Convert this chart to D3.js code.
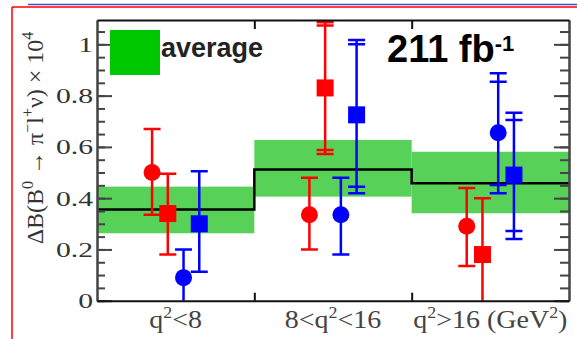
<!DOCTYPE html>
<html>
<head>
<meta charset="utf-8">
<script src="https://cdn.jsdelivr.net/npm/d3@7"></script>
<style>
  html, body { margin: 0; padding: 0; background: #fff; }
  svg { display: block; }
</style>
</head>
<body>
<svg id="chart" width="577" height="339"></svg>
<script>
// q^2 bin labels: [text, isSuperscript]
const binLabels = [
  [["q", false], ["2", true], ["<8", false]],
  [["8<q", false], ["2", true], ["<16", false]],
  [["q", false], ["2", true], [">16 (GeV", false], ["2", true], [")", false]]
];

// Average branching fraction per bin (x 10^4) and its band
const avgValue = [0.356, 0.512, 0.458];
const avgLow   = [0.263, 0.406, 0.341];
const avgHigh  = [0.445, 0.627, 0.581];

// Individual measurements (x 10^4): central value, outer error ends, inner (stat) ends
const redCircleValue = [0.50, 0.335, 0.29];
const redCircleHigh  = [0.67, 0.48, 0.44];
const redCircleLow   = [0.335, 0.20, 0.135];

const redSquareValue     = [0.34, 0.83, 0.18];
const redSquareHigh      = [0.495, 1.086, 0.40];
const redSquareLow       = [0.18, 0.572, -0.05];
const redSquareInnerHigh = [null, 1.074, null];
const redSquareInnerLow  = [null, 0.588, null];

const blueCircleValue     = [0.09, 0.335, 0.655];
const blueCircleHigh      = [0.20, 0.48, 0.887];
const blueCircleLow       = [-0.05, 0.18, 0.419];
const blueCircleInnerHigh = [null, null, 0.854];
const blueCircleInnerLow  = [null, null, 0.451];

const blueSquareValue     = [0.30, 0.725, 0.49];
const blueSquareHigh      = [0.505, 1.017, 0.733];
const blueSquareLow       = [0.113, 0.419, 0.241];
const blueSquareInnerHigh = [null, 1.0, 0.705];
const blueSquareInnerLow  = [null, 0.445, 0.272];

const yMajorTicks = [0, 0.2, 0.4, 0.6, 0.8, 1];
const yMinorTicks = d3.range(0, 22).map(i => i * 0.05);

const W = 577, H = 339;
const margin = { left: 97, right: 8, top: 20, bottom: 38.3 };
const svg = d3.select("#chart");

const x = d3.scaleLinear().domain([0, 3]).range([margin.left, W - margin.right]);
const y = d3.scaleLinear().domain([0, 1.095]).range([H - margin.bottom, margin.top]);

const serif = "'Liberation Serif', 'Times New Roman', serif";
const sans = "'Liberation Sans', Arial, sans-serif";
const RED = "#ff0000", BLUE = "#0000ff";

// page border lines
svg.append("line").attr("x1", 28).attr("x2", W).attr("y1", 4.5).attr("y2", 4.5)
  .attr("stroke", "#4a4ac8").attr("stroke-width", 1.5);
svg.append("line").attr("x1", 12).attr("x2", W).attr("y1", 7).attr("y2", 7)
  .attr("stroke", RED).attr("stroke-width", 1.5);
svg.append("line").attr("x1", 12).attr("x2", 12).attr("y1", 7).attr("y2", H)
  .attr("stroke", RED).attr("stroke-width", 1.5);

const plot = svg.append("g");
const clipId = "plotclip";
svg.append("defs").append("clipPath").attr("id", clipId)
  .append("rect").attr("x", x(0)).attr("y", y(1.095))
  .attr("width", x(3) - x(0)).attr("height", y(0) - y(1.095));

const inner = plot.append("g").attr("clip-path", `url(#${clipId})`);

// average bands
inner.selectAll("rect.band").data(avgValue).join("rect")
  .attr("class", "band")
  .attr("x", (d, i) => x(i)).attr("width", (d, i) => x(i + 1) - x(i))
  .attr("y", (d, i) => y(avgHigh[i])).attr("height", (d, i) => y(avgLow[i]) - y(avgHigh[i]))
  .attr("fill", "#58d158");

// average step line
const stepPts = [];
avgValue.forEach((v, i) => { stepPts.push([i, v]); stepPts.push([i + 1, v]); });
inner.append("path")
  .attr("d", d3.line().x(d => x(d[0])).y(d => y(d[1]))(stepPts))
  .attr("fill", "none").attr("stroke", "#000").attr("stroke-width", 2.5);

// measurements
const series = [
  { color: RED,  shape: "circle", off: 0.35, v: redCircleValue,  hi: redCircleHigh,  lo: redCircleLow,  ihi: [null, null, null], ilo: [null, null, null] },
  { color: RED,  shape: "square", off: 0.45, v: redSquareValue,  hi: redSquareHigh,  lo: redSquareLow,  ihi: redSquareInnerHigh, ilo: redSquareInnerLow },
  { color: BLUE, shape: "circle", off: 0.55, v: blueCircleValue, hi: blueCircleHigh, lo: blueCircleLow, ihi: blueCircleInnerHigh, ilo: blueCircleInnerLow },
  { color: BLUE, shape: "square", off: 0.65, v: blueSquareValue, hi: blueSquareHigh, lo: blueSquareLow, ihi: blueSquareInnerHigh, ilo: blueSquareInnerLow }
];

const capHalf = 8.5;
series.forEach(s => {
  const g = inner.append("g").attr("stroke", s.color).attr("fill", s.color);
  s.v.forEach((val, i) => {
    const cx = x(i + s.off);
    g.append("line").attr("x1", cx).attr("x2", cx)
      .attr("y1", y(s.lo[i])).attr("y2", y(s.hi[i])).attr("stroke-width", 2.5);
    [s.hi[i], s.lo[i], s.ihi[i], s.ilo[i]].forEach(c => {
      if (c === null || c < 0) return;
      g.append("line").attr("x1", cx - capHalf).attr("x2", cx + capHalf)
        .attr("y1", y(c)).attr("y2", y(c)).attr("stroke-width", 2.5);
    });
    if (s.shape === "circle") {
      g.append("circle").attr("cx", cx).attr("cy", y(val)).attr("r", 8.5).attr("stroke", "none");
    } else {
      g.append("rect").attr("x", cx - 8.5).attr("y", y(val) - 8.5)
        .attr("width", 17).attr("height", 17).attr("stroke", "none");
    }
  });
});

// axes
const axisColor = "#444";
const tickStretch = 1.35;
function styleAxis(g, color) {
  g.select(".domain").attr("stroke", color).attr("stroke-width", 2);
  g.selectAll(".tick line").attr("stroke", color).attr("stroke-width", 2);
}

const leftMinor = plot.append("g").attr("transform", `translate(${x(0)},0)`)
  .call(d3.axisLeft(y).tickValues(yMinorTicks).tickSize(-8).tickSizeOuter(0).tickFormat(""));
styleAxis(leftMinor, axisColor);
const leftMajor = plot.append("g").attr("transform", `translate(${x(0)},0)`)
  .call(d3.axisLeft(y).tickValues(yMajorTicks).tickSize(-15).tickSizeOuter(0).tickPadding(4)
    .tickFormat(d => d === 0 ? "0" : d === 1 ? "1" : d3.format(".1f")(d)));
styleAxis(leftMajor, axisColor);
leftMajor.selectAll(".tick text")
  .attr("font-family", serif).attr("font-size", 22).attr("fill", "#333")
  .attr("x", -4 / tickStretch)
  .attr("transform", `scale(${tickStretch},1)`);

const rightMinor = plot.append("g").attr("transform", `translate(${x(3)},0)`)
  .call(d3.axisRight(y).tickValues(yMinorTicks).tickSize(-9).tickSizeOuter(0).tickFormat(""));
styleAxis(rightMinor, axisColor);
const rightMajor = plot.append("g").attr("transform", `translate(${x(3)},0)`)
  .call(d3.axisRight(y).tickValues(yMajorTicks).tickSize(-15).tickSizeOuter(0).tickFormat(""));
styleAxis(rightMajor, axisColor);

const topAxis = plot.append("g").attr("transform", `translate(0,${y(1.095)})`)
  .call(d3.axisTop(x).tickValues([1, 2]).tickSize(-9).tickSizeOuter(0).tickFormat(""));
styleAxis(topAxis, "#111");
const bottomAxis = plot.append("g").attr("transform", `translate(0,${y(0)})`)
  .call(d3.axisBottom(x).tickValues([1, 2]).tickSize(-8).tickSizeOuter(0).tickFormat(""));
styleAxis(bottomAxis, "#111");

// bin labels
const labelStretch = 1.12;
binLabels.forEach((parts, i) => {
  const t = svg.append("text")
    .attr("transform", `translate(${x(i + 0.5)},328) scale(${labelStretch},1)`)
    .attr("text-anchor", "middle")
    .attr("font-family", serif).attr("font-size", 25).attr("fill", "#444");
  parts.forEach(([str, sup]) => {
    const ts = t.append("tspan").text(str);
    if (sup) ts.attr("font-size", 16).attr("dy", -10);
    else if (t.selectAll("tspan").size() > 1) ts.attr("dy", 10);
  });
});

// y-axis title
const yt = svg.append("text")
  .attr("transform", "translate(43,138) rotate(-90)")
  .attr("text-anchor", "middle")
  .attr("font-family", serif).attr("font-size", 24).attr("fill", "#333");
[["\u0394B(B", 0], ["0", -10], [" \u2192 \u03C0", 10], ["\u2212", -10], ["l", 10], ["+", -10], ["\u03BD) \u00D7 10", 10], ["4", -10]]
  .forEach(([str, dy]) => {
    const ts = yt.append("tspan").text(str);
    if (dy) ts.attr("dy", dy);
    if (dy < 0) ts.attr("font-size", 16);
  });

// legend
svg.append("rect").attr("x", 110).attr("y", 30).attr("width", 50).attr("height", 45)
  .attr("fill", "#00c800");
svg.append("text").attr("x", 161).attr("y", 57)
  .attr("font-family", sans).attr("font-weight", "bold").attr("font-size", 27).attr("fill", "#222")
  .text("average");

// luminosity label
const lum = svg.append("text").attr("x", 387).attr("y", 62)
  .attr("font-family", sans).attr("font-weight", "bold").attr("font-size", 38).attr("fill", "#000");
lum.append("tspan").text("211 fb");
lum.append("tspan").attr("dy", -11).attr("font-size", 22).text("-1");
</script>
</body>
</html>
